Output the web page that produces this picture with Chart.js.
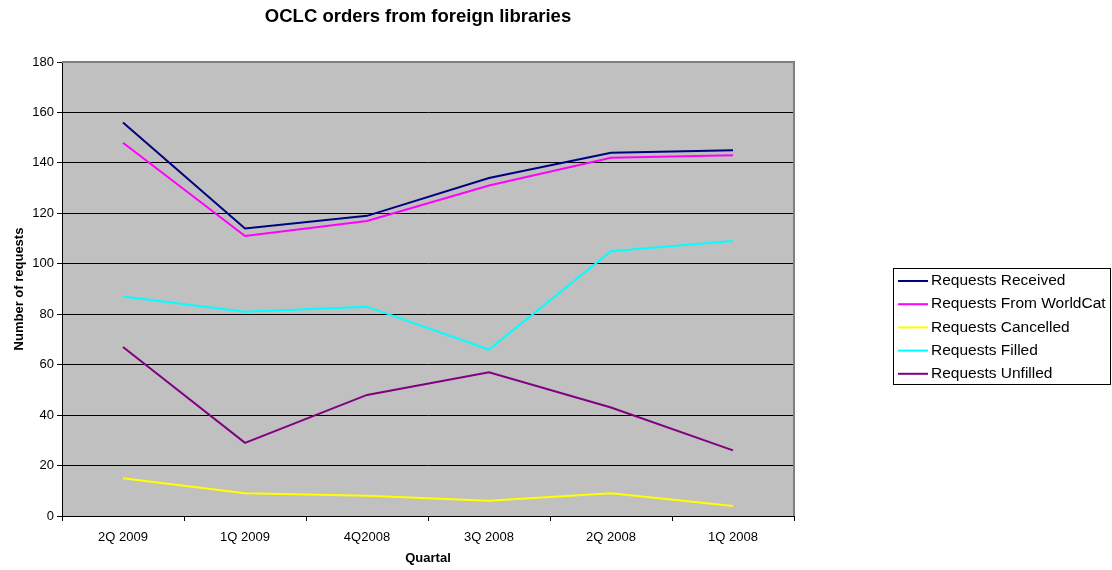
<!DOCTYPE html>
<html>
<head>
<meta charset="utf-8">
<script src="https://cdn.jsdelivr.net/npm/chart.js@4"></script>
<style>
  body { margin: 0; background: #fff; }
  #wrap { width: 1112px; height: 570px; }
</style>
</head>
<body>
<div id="wrap"><canvas id="c" width="1112" height="570"></canvas></div>
<script>
// data
quartals = ['2Q 2009', '1Q 2009', '4Q2008', '3Q 2008', '2Q 2008', '1Q 2008']
received = [156, 114, 119, 134, 144, 145]
worldcat = [148, 111, 117, 131, 142, 143]
cancelled = [15, 9, 8, 6, 9, 4]
filled = [87, 81, 83, 66, 105, 109]
unfilled = [67, 29, 48, 57, 43, 26]
yTicks = [0, 20, 40, 60, 80, 100, 120, 140, 160, 180]

seriesNames = ['Requests Received', 'Requests From WorldCat', 'Requests Cancelled', 'Requests Filled', 'Requests Unfilled']
seriesColors = ['#000080', '#FF00FF', '#FFFF00', '#00FFFF', '#800080']
seriesValues = [received, worldcat, cancelled, filled, unfilled]

Chart.defaults.font.family = '"Liberation Sans", Arial, sans-serif'
Chart.defaults.color = '#000'

datasets = []
for (let i = 0; i < seriesNames.length; i++) {
  datasets.push({
    label: seriesNames[i],
    data: seriesValues[i],
    borderColor: seriesColors[i],
    backgroundColor: seriesColors[i],
    borderWidth: 2,
    pointRadius: 0,
    tension: 0,
    fill: false
  })
}

// gray plot background, border, title and the boxed legend like Excel
const excelLook = {
  id: 'excelLook',
  beforeDraw(chart) {
    const a = chart.chartArea
    const ctx = chart.ctx
    ctx.save()
    ctx.fillStyle = '#C0C0C0'
    ctx.fillRect(a.left, a.top, a.right - a.left, a.bottom - a.top)
    ctx.restore()
  },
  afterDraw(chart) {
    const a = chart.chartArea
    const ctx = chart.ctx
    ctx.save()
    // top and right frame
    ctx.strokeStyle = '#808080'
    ctx.lineWidth = 2
    ctx.beginPath()
    ctx.moveTo(a.left, a.top)
    ctx.lineTo(a.right, a.top)
    ctx.lineTo(a.right, a.bottom)
    ctx.stroke()

    // title
    ctx.fillStyle = '#000'
    ctx.font = 'bold 18.5px "Liberation Sans", Arial, sans-serif'
    ctx.textAlign = 'center'
    ctx.textBaseline = 'alphabetic'
    ctx.fillText('OCLC orders from foreign libraries', 418, 22)

    // legend
    const lx = 893, ly = 268, lw = 217, lh = 116
    ctx.lineWidth = 1
    ctx.strokeStyle = '#000'
    ctx.strokeRect(lx + 0.5, ly + 0.5, lw, lh)
    ctx.font = '15.5px "Liberation Sans", Arial, sans-serif'
    ctx.textAlign = 'left'
    ctx.textBaseline = 'middle'
    chart.data.datasets.forEach(function (ds, i) {
      const y = 281 + i * 23.2
      ctx.strokeStyle = ds.borderColor
      ctx.lineWidth = 2
      ctx.beginPath()
      ctx.moveTo(898, y)
      ctx.lineTo(928, y)
      ctx.stroke()
      ctx.fillStyle = '#000'
      ctx.fillText(ds.label, 931, y)
    })
    ctx.restore()
  }
}

const myChart = new Chart(
  document.getElementById('c'),
  {
    type: 'line',
    data: { labels: quartals, datasets: datasets },
    plugins: [excelLook],
    options: {
      responsive: false,
      animation: false,
      layout: { padding: { left: 0, top: 62, right: 318, bottom: 0 } },
      plugins: {
        legend: { display: false },
        title: { display: false },
        tooltip: { enabled: false }
      },
      scales: {
        x: {
          offset: true,
          grid: { offset: true, drawOnChartArea: false, drawTicks: true, tickLength: 5, color: '#000' },
          border: { color: '#000', width: 1 },
          ticks: { font: { size: 13 }, padding: 9, maxRotation: 0, autoSkip: false },
          title: { display: true, text: 'Quartal', font: { size: 13, weight: 'bold' }, padding: { top: 0, bottom: 4 } },
          afterFit: function (scale) { scale.height = 54 }
        },
        y: {
          min: 0,
          max: 180,
          afterBuildTicks: function (scale) { scale.ticks = yTicks.map(function (v) { return { value: v } }) },
          grid: { color: '#000', tickLength: 5, lineWidth: 1 },
          border: { color: '#000', width: 1 },
          ticks: { font: { size: 13 }, padding: 3 },
          title: { display: true, text: 'Number of requests', font: { size: 13, weight: 'bold' }, padding: { top: 12, bottom: 0 } },
          afterFit: function (scale) { scale.width = 62 }
        }
      }
    }
  }
)
</script>
</body>
</html>
